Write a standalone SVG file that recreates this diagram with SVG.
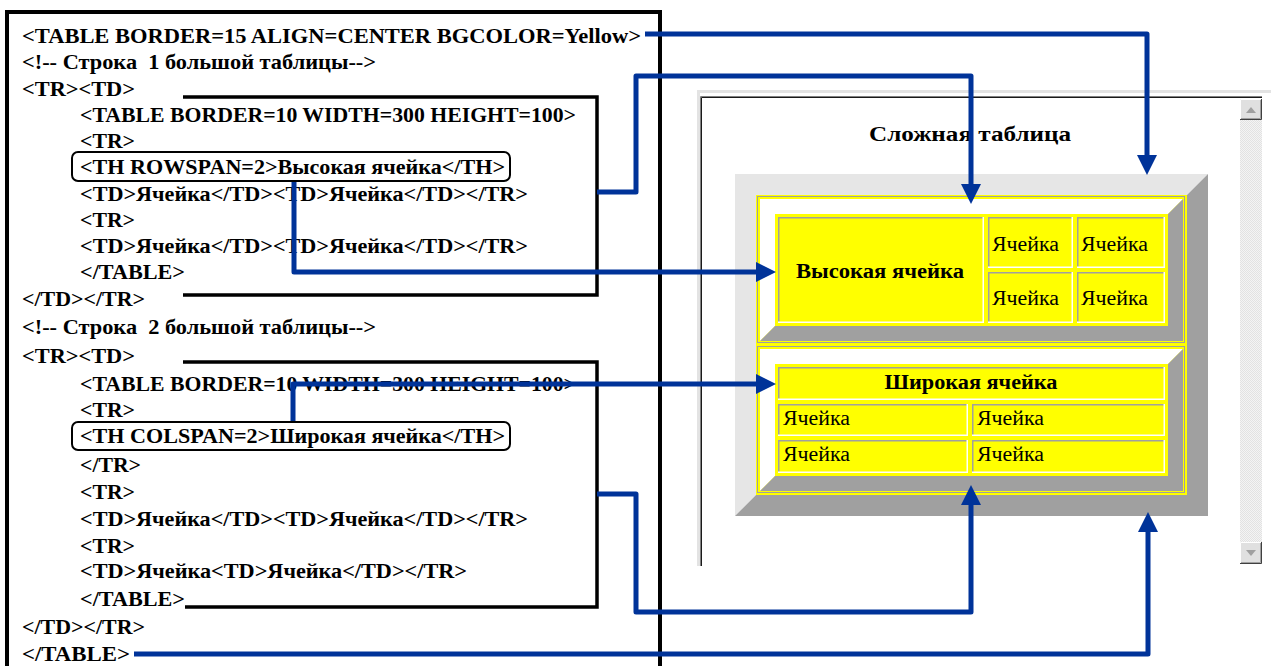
<svg xmlns="http://www.w3.org/2000/svg" width="1271" height="666" viewBox="0 0 1271 666">
<defs>
<style>
.code{font-family:"Liberation Serif","Times New Roman",serif;font-weight:bold;font-size:22px;fill:#000}
.cell{font-family:"Liberation Serif","Times New Roman",serif;font-size:20px;fill:#000}
.th{font-family:"Liberation Serif","Times New Roman",serif;font-size:20px;font-weight:bold;fill:#000}
.conn{fill:none;stroke:#003399;stroke-width:5;stroke-linejoin:round}
.brk{fill:none;stroke:#000;stroke-width:3.5}
.rbox{fill:none;stroke:#000;stroke-width:2}
.y{fill:#ffff00}
.hi{fill:#ffffff}
.sh{fill:#a0a0a0}
.lt{fill:#e6e6e6}
.cg{fill:none;stroke:#a0a0a0;stroke-width:1.5}
.cw{fill:none;stroke:#ffffff;stroke-width:1.5}
</style>
<marker id="ah" markerUnits="userSpaceOnUse" viewBox="0 0 20 20" markerWidth="20" markerHeight="20" refX="12" refY="10" orient="auto"><path d="M0,0 L20,10 L0,20 z" fill="#003399"/></marker>
<pattern id="chk" width="2" height="2" patternUnits="userSpaceOnUse"><rect width="2" height="2" fill="#f4f4f4"/><rect width="1" height="1" fill="#e2e2e2"/><rect x="1" y="1" width="1" height="1" fill="#e2e2e2"/></pattern>
</defs>
<rect width="1271" height="666" fill="#ffffff"/>

<g id="code-panel">
<rect x="7" y="12" width="653" height="700" fill="none" stroke="#000" stroke-width="4"/>
<text class="code" x="22" y="43" textLength="619" lengthAdjust="spacingAndGlyphs">&lt;TABLE BORDER=15 ALIGN=CENTER BGCOLOR=Yellow&gt;</text>
<text class="code" x="22" y="69" textLength="354" lengthAdjust="spacingAndGlyphs" xml:space="preserve" style="white-space:pre">&lt;!-- Строка  1 большой таблицы--&gt;</text>
<text class="code" x="22" y="96" textLength="113" lengthAdjust="spacingAndGlyphs">&lt;TR&gt;&lt;TD&gt;</text>
<text class="code" x="80" y="122" textLength="496" lengthAdjust="spacingAndGlyphs">&lt;TABLE BORDER=10 WIDTH=300 HEIGHT=100&gt;</text>
<text class="code" x="80" y="148" textLength="55" lengthAdjust="spacingAndGlyphs">&lt;TR&gt;</text>
<text class="code" x="80" y="174" textLength="425" lengthAdjust="spacingAndGlyphs">&lt;TH ROWSPAN=2&gt;Высокая ячейка&lt;/TH&gt;</text>
<text class="code" x="80" y="201" textLength="448" lengthAdjust="spacingAndGlyphs">&lt;TD&gt;Ячейка&lt;/TD&gt;&lt;TD&gt;Ячейка&lt;/TD&gt;&lt;/TR&gt;</text>
<text class="code" x="80" y="227" textLength="55" lengthAdjust="spacingAndGlyphs">&lt;TR&gt;</text>
<text class="code" x="80" y="253" textLength="448" lengthAdjust="spacingAndGlyphs">&lt;TD&gt;Ячейка&lt;/TD&gt;&lt;TD&gt;Ячейка&lt;/TD&gt;&lt;/TR&gt;</text>
<text class="code" x="80" y="279" textLength="105" lengthAdjust="spacingAndGlyphs">&lt;/TABLE&gt;</text>
<text class="code" x="22" y="306" textLength="123" lengthAdjust="spacingAndGlyphs">&lt;/TD&gt;&lt;/TR&gt;</text>
<text class="code" x="22" y="334" textLength="354" lengthAdjust="spacingAndGlyphs" xml:space="preserve" style="white-space:pre">&lt;!-- Строка  2 большой таблицы--&gt;</text>
<text class="code" x="22" y="363" textLength="113" lengthAdjust="spacingAndGlyphs">&lt;TR&gt;&lt;TD&gt;</text>
<text class="code" x="80" y="391" textLength="496" lengthAdjust="spacingAndGlyphs">&lt;TABLE BORDER=10 WIDTH=300 HEIGHT=100&gt;</text>
<text class="code" x="80" y="417" textLength="55" lengthAdjust="spacingAndGlyphs">&lt;TR&gt;</text>
<text class="code" x="80" y="443" textLength="425" lengthAdjust="spacingAndGlyphs">&lt;TH COLSPAN=2&gt;Широкая ячейка&lt;/TH&gt;</text>
<text class="code" x="80" y="472" textLength="61" lengthAdjust="spacingAndGlyphs">&lt;/TR&gt;</text>
<text class="code" x="80" y="499" textLength="55" lengthAdjust="spacingAndGlyphs">&lt;TR&gt;</text>
<text class="code" x="80" y="526" textLength="448" lengthAdjust="spacingAndGlyphs">&lt;TD&gt;Ячейка&lt;/TD&gt;&lt;TD&gt;Ячейка&lt;/TD&gt;&lt;/TR&gt;</text>
<text class="code" x="80" y="553" textLength="55" lengthAdjust="spacingAndGlyphs">&lt;TR&gt;</text>
<text class="code" x="80" y="578" textLength="387" lengthAdjust="spacingAndGlyphs">&lt;TD&gt;Ячейка&lt;TD&gt;Ячейка&lt;/TD&gt;&lt;/TR&gt;</text>
<text class="code" x="80" y="606" textLength="105" lengthAdjust="spacingAndGlyphs">&lt;/TABLE&gt;</text>
<text class="code" x="22" y="634" textLength="123" lengthAdjust="spacingAndGlyphs">&lt;/TD&gt;&lt;/TR&gt;</text>
<text class="code" x="22" y="661" textLength="108" lengthAdjust="spacingAndGlyphs">&lt;/TABLE&gt;</text>
</g>

<g id="code-inner-table-1">
<path class="brk" d="M183,97 H597 V295 H183"/>
<rect class="rbox" x="72" y="152" width="438" height="29" rx="6"/>
</g>
<g id="code-inner-table-2">
<path class="brk" d="M183,362 H597 V607 H185"/>
<rect class="rbox" x="72" y="422" width="438" height="28" rx="6"/>
</g>

<g id="browser-window">
<rect x="697" y="90" width="574" height="3" fill="#e3e3e3"/>
<rect x="697" y="90" width="3" height="476" fill="#e3e3e3"/>
<path d="M700.5,566 V96.5 H1262" fill="none" stroke="#808080" stroke-width="1"/>
<path d="M701.5,566 V97.5 H1262" fill="none" stroke="#1a1a1a" stroke-width="1"/>
<rect x="1240" y="120" width="22" height="422" fill="url(#chk)"/>
<rect x="1240" y="99" width="22" height="21" fill="#e0e0e0"/>
<path d="M1240.5,119 V99.5 H1261" fill="none" stroke="#fff"/>
<path d="M1241,118.5 H1260.5 V100" fill="none" stroke="#a0a0a0"/>
<path d="M1240,119.5 H1261.5 V99" fill="none" stroke="#404040"/>
<polygon points="1246,113 1256,113 1251,107" fill="#a0a0a0"/>
<rect x="1240" y="542" width="22" height="22" fill="#e0e0e0"/>
<path d="M1240.5,563 V542.5 H1261" fill="none" stroke="#fff"/>
<path d="M1241,562.5 H1260.5 V543" fill="none" stroke="#a0a0a0"/>
<path d="M1240,563.5 H1261.5 V542" fill="none" stroke="#404040"/>
<polygon points="1246,550 1256,550 1251,556" fill="#a0a0a0"/>
<text class="th" x="970" y="141" text-anchor="middle" font-size="21" textLength="202" lengthAdjust="spacingAndGlyphs">Сложная таблица</text>
</g>

<g id="outer-table">
<polygon class="lt" points="735,174 1208,174 1187,195 756,195 756,495 735,516"/>
<polygon class="sh" points="1208,174 1208,516 735,516 756,495 1187,495 1187,195"/>
<rect class="y" x="756" y="195" width="431" height="300"/>
<rect x="757.5" y="196.5" width="427" height="146" fill="none" stroke="#a0a0a0" stroke-width="1"/>
<rect x="757.5" y="346.5" width="427" height="146" fill="none" stroke="#a0a0a0" stroke-width="1"/>
</g>

<g id="inner-table-1">
<polygon class="hi" points="760,199 1183,199 1168,214 775,214 775,326 760,341"/>
<polygon class="sh" points="1183,199 1183,341 760,341 775,326 1168,326 1168,214"/>
<rect class="y" x="775" y="214" width="393" height="112"/>
<rect class="y" x="778" y="217" width="206" height="106"/>
<path class="cg" d="M778.75,323 V217.75 H984"/><path class="cw" d="M983.25,217 V322.25 H778"/>
<rect class="y" x="988" y="217" width="85" height="51"/>
<path class="cg" d="M988.75,268 V217.75 H1073"/><path class="cw" d="M1072.25,217 V267.25 H988"/>
<rect class="y" x="1077" y="217" width="88" height="51"/>
<path class="cg" d="M1077.75,268 V217.75 H1165"/><path class="cw" d="M1164.25,217 V267.25 H1077"/>
<rect class="y" x="988" y="272" width="85" height="51"/>
<path class="cg" d="M988.75,323 V272.75 H1073"/><path class="cw" d="M1072.25,272 V322.25 H988"/>
<rect class="y" x="1077" y="272" width="88" height="51"/>
<path class="cg" d="M1077.75,323 V272.75 H1165"/><path class="cw" d="M1164.25,272 V322.25 H1077"/>
<text class="th" x="880" y="278" text-anchor="middle" textLength="168" lengthAdjust="spacingAndGlyphs">Высокая ячейка</text>
<text class="cell" x="992" y="251" textLength="67" lengthAdjust="spacingAndGlyphs">Ячейка</text>
<text class="cell" x="1081" y="251" textLength="67" lengthAdjust="spacingAndGlyphs">Ячейка</text>
<text class="cell" x="992" y="305" textLength="67" lengthAdjust="spacingAndGlyphs">Ячейка</text>
<text class="cell" x="1081" y="305" textLength="67" lengthAdjust="spacingAndGlyphs">Ячейка</text>
</g>

<g id="inner-table-2">
<polygon class="hi" points="760,349 1183,349 1168,364 775,364 775,476 760,491"/>
<polygon class="sh" points="1183,349 1183,491 760,491 775,476 1168,476 1168,364"/>
<rect class="y" x="775" y="364" width="393" height="112"/>
<rect class="y" x="778" y="367" width="387" height="33"/>
<path class="cg" d="M778.75,400 V367.75 H1165"/><path class="cw" d="M1164.25,367 V399.25 H778"/>
<rect class="y" x="778" y="404" width="190" height="32"/>
<path class="cg" d="M778.75,436 V404.75 H968"/><path class="cw" d="M967.25,404 V435.25 H778"/>
<rect class="y" x="972" y="404" width="193" height="32"/>
<path class="cg" d="M972.75,436 V404.75 H1165"/><path class="cw" d="M1164.25,404 V435.25 H972"/>
<rect class="y" x="778" y="440" width="190" height="33"/>
<path class="cg" d="M778.75,473 V440.75 H968"/><path class="cw" d="M967.25,440 V472.25 H778"/>
<rect class="y" x="972" y="440" width="193" height="33"/>
<path class="cg" d="M972.75,473 V440.75 H1165"/><path class="cw" d="M1164.25,440 V472.25 H972"/>
<text class="th" x="971" y="389" text-anchor="middle" textLength="173" lengthAdjust="spacingAndGlyphs">Широкая ячейка</text>
<text class="cell" x="783" y="425" textLength="67" lengthAdjust="spacingAndGlyphs">Ячейка</text>
<text class="cell" x="977" y="425" textLength="67" lengthAdjust="spacingAndGlyphs">Ячейка</text>
<text class="cell" x="783" y="461" textLength="67" lengthAdjust="spacingAndGlyphs">Ячейка</text>
<text class="cell" x="977" y="461" textLength="67" lengthAdjust="spacingAndGlyphs">Ячейка</text>
</g>

<g id="connectors">
<path class="conn" marker-end="url(#ah)" d="M645,34 H1147 V167"/>
<path class="conn" marker-end="url(#ah)" d="M597,192 H636 V76 H971 V196"/>
<path class="conn" marker-end="url(#ah)" d="M294,182 V272 H768"/>
<path class="conn" marker-end="url(#ah)" d="M293,421 V384 H768"/>
<path class="conn" marker-end="url(#ah)" d="M597,494 H636 V612 H971 V493"/>
<path class="conn" marker-end="url(#ah)" d="M134,654 H1148 V520"/>
</g>
</svg>
